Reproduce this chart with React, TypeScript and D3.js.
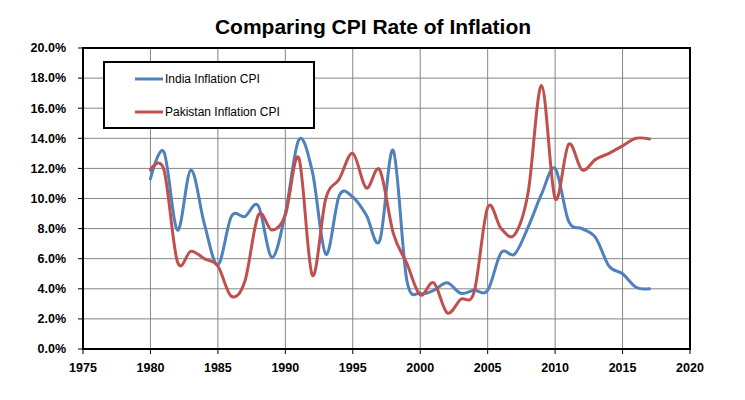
import React from "react";
import * as d3 from "d3";

const years: number[] = d3.range(1980, 2018);
const india: number[] = [
  11.3, 13.1, 7.9, 11.9, 8.3, 5.6, 8.8, 8.8, 9.5, 6.1,
  9.0, 13.9, 11.8, 6.3, 10.2, 10.1, 8.9, 7.2, 13.2, 4.6,
  3.7, 3.9, 4.4, 3.7, 3.9, 3.9, 6.4, 6.3, 8.1, 10.3,
  12.0, 8.5, 8.0, 7.4, 5.5, 5.0, 4.1, 4.0,
];
const pakistan: number[] = [
  11.9, 11.9, 5.8, 6.5, 6.0, 5.5, 3.5, 4.5, 8.9, 7.9,
  8.9, 12.7, 4.9, 10.0, 11.3, 13.0, 10.7, 11.9, 7.7, 5.7,
  3.6, 4.4, 2.4, 3.3, 3.8, 9.4, 8.0, 7.6, 10.4, 17.5,
  10.0, 13.6, 11.9, 12.6, 13.0, 13.5, 14.0, 13.95,
];
const seriesNames: string[] = ["India Inflation CPI", "Pakistan Inflation CPI"];
const seriesColors: string[] = ["#4F81BD", "#C0504D"];
const xTicks: number[] = d3.range(1975, 2021, 5);
const yTicks: number[] = d3.range(0, 0.2001, 0.02);
const title = "Comparing  CPI Rate of Inflation";

export default function App() {
  const W = 745, H = 400;
  const left = 83, right = 690, top = 48, bottom = 349;
  const x = d3.scaleLinear().domain([1975, 2020]).range([left, right]);
  const y = d3.scaleLinear().domain([0, 0.2]).range([bottom, top]);
  const line = d3
    .line<[number, number]>()
    .x((d) => x(d[0]))
    .y((d) => y(d[1] / 100))
    .curve(d3.curveCardinal.tension(0));
  const series = [india, pakistan];
  const font = "'Liberation Sans', Arial, sans-serif";
  const fmt = d3.format(".1%");
  return (
    <svg
      width={W}
      height={H}
      style={{ position: "absolute", left: 0, top: 0, background: "#fff" }}
      fontFamily={font}
    >
      <rect x={0} y={0} width={W} height={H} fill="#fff" />
      <text x={373} y={34} textAnchor="middle" fontSize={21} fontWeight="bold" fill="#000">
        {title}
      </text>
      {/* gridlines */}
      {yTicks.map((t, i) => (
        <line key={"gy" + i} x1={left} x2={right} y1={y(t)} y2={y(t)} stroke="#868686" strokeWidth={1} />
      ))}
      {xTicks.map((t, i) => (
        <line key={"gx" + i} x1={x(t)} x2={x(t)} y1={top} y2={bottom} stroke="#868686" strokeWidth={1} />
      ))}
      {/* plot border */}
      <rect x={left} y={top} width={right - left} height={bottom - top} fill="none" stroke="#000" strokeWidth={2} />
      {/* ticks */}
      {yTicks.map((t, i) => (
        <g key={"ty" + i}>
          <line x1={left - 5} x2={left} y1={y(t)} y2={y(t)} stroke="#000" strokeWidth={1} />
          <text x={left - 17} y={y(t)} dy="0.35em" textAnchor="end" fontSize={12.5} fontWeight="bold" fill="#000">
            {fmt(t)}
          </text>
        </g>
      ))}
      {xTicks.map((t, i) => (
        <g key={"tx" + i}>
          <line x1={x(t)} x2={x(t)} y1={bottom} y2={bottom + 5} stroke="#000" strokeWidth={1} />
          <text x={x(t)} y={372} textAnchor="middle" fontSize={12.5} fontWeight="bold" fill="#000">
            {t}
          </text>
        </g>
      ))}
      {/* lines */}
      {series.map((s, si) => (
        <path
          key={"s" + si}
          d={line(years.map((yr, i) => [yr, s[i]] as [number, number])) || ""}
          fill="none"
          stroke={seriesColors[si]}
          strokeWidth={3}
          strokeLinejoin="round"
          strokeLinecap="round"
        />
      ))}
      {/* legend */}
      <rect x={104} y={62} width={210} height={66} fill="#fff" stroke="#000" strokeWidth={2} />
      {seriesNames.map((n, i) => (
        <g key={"l" + i}>
          <line x1={135} x2={163} y1={79 + i * 33} y2={79 + i * 33} stroke={seriesColors[i]} strokeWidth={3} />
          <text x={165} y={79 + i * 33} dy="0.35em" fontSize={12} fill="#000">
            {n}
          </text>
        </g>
      ))}
    </svg>
  );
}
